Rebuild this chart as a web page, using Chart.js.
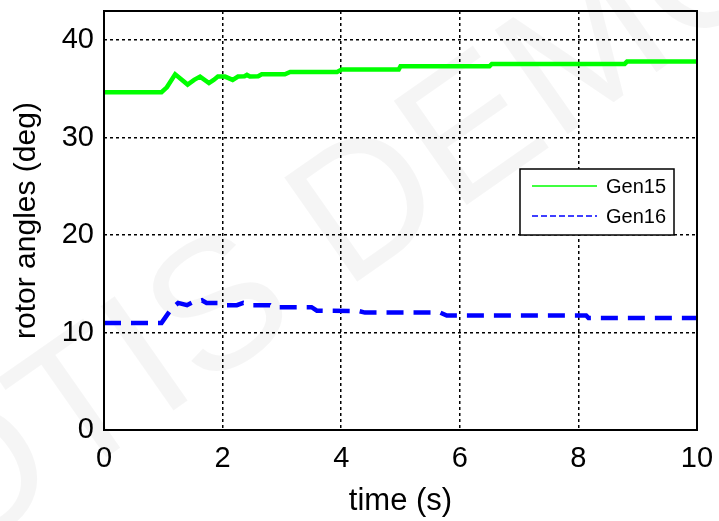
<!DOCTYPE html>
<html>
<head>
<meta charset="utf-8">
<title>rotor angles</title>
<script src="https://cdn.jsdelivr.net/npm/chart.js@4.4.1/dist/chart.umd.min.js"></script>
<style>
    html, body { margin: 0; padding: 0; background: #fff; }
    #wrap { width: 719px; height: 521px; }
</style>
</head>
<body>
<div id="wrap"><canvas id="rotorChart" width="719" height="521"></canvas></div>
<script>
// Gen15 rotor angle (deg) against time (s)
const timeGen15 = [0, 0.97, 1.06, 1.2, 1.41, 1.52, 1.62, 1.77, 1.85, 1.92, 2.04, 2.17, 2.26, 2.37, 2.41, 2.46, 2.6, 2.66, 3.05, 3.14, 3.93, 4.01, 4.97, 5.0, 6.5, 6.54, 8.78, 8.82, 10];
const angleGen15 = [34.66, 34.66, 35.17, 36.5, 35.45, 35.93, 36.27, 35.6, 35.93, 36.27, 36.27, 35.93, 36.27, 36.3, 36.44, 36.27, 36.3, 36.5, 36.5, 36.75, 36.75, 36.99, 36.99, 37.33, 37.33, 37.57, 37.57, 37.81, 37.81];

// Gen16 rotor angle (deg) against time (s)
const timeGen16 = [0, 0.97, 1.14, 1.25, 1.4, 1.51, 1.65, 1.73, 1.93, 2.01, 2.24, 2.35, 2.51, 2.8, 2.85, 3.5, 3.59, 4.3, 4.4, 5.67, 5.78, 8.13, 8.17, 10];
const angleGen16 = [10.99, 10.99, 12.47, 13.04, 12.81, 13.15, 13.32, 13.04, 13.04, 12.81, 12.81, 13.04, 12.81, 12.81, 12.6, 12.6, 12.25, 12.2, 12.05, 12.05, 11.75, 11.75, 11.5, 11.5];

const seriesLabels = ['Gen15', 'Gen16'];
const xTicks = [0, 2, 4, 6, 8, 10];
const yTicks = [0, 10, 20, 30, 40];

const FONT = "'Liberation Sans', Arial, sans-serif";

function toPoints(times, values) {
    return times.map((t, i) => ({ x: t, y: values[i] }));
}

// no automatic room for overflowing tick labels, the padding below sets the box
function fixedBox(size, key) {
    return axis => {
        axis[key] = size;
        axis.paddingTop = 0;
        axis.paddingBottom = 0;
        axis.paddingLeft = 0;
        axis.paddingRight = 0;
    };
}

// faint diagonal watermark behind the plot
const watermarkPlugin = {
    id: 'watermark',
    beforeDraw(chart) {
        const ctx = chart.ctx;
        ctx.save();
        ctx.fillStyle = '#ffffff';
        ctx.fillRect(0, 0, chart.width, chart.height);
        ctx.translate(345, 228);
        ctx.rotate(-35 * Math.PI / 180);
        ctx.font = '185px ' + FONT;
        ctx.textAlign = 'center';
        ctx.textBaseline = 'middle';
        ctx.fillStyle = 'rgba(0, 0, 0, 0.04)';
        ctx.fillText('OTIS DEMO', 0, 0);
        ctx.restore();
    }
};

// full axes box plus the boxed legend inside the plot
const boxLegendPlugin = {
    id: 'boxLegend',
    afterDraw(chart) {
        const ctx = chart.ctx;
        const area = chart.chartArea;
        ctx.save();
        ctx.strokeStyle = '#000';
        ctx.lineWidth = 2;
        ctx.strokeRect(area.left, area.top, area.right - area.left, area.bottom - area.top);

        const lx = 520, ly = 169, lw = 154, lh = 66;
        ctx.fillStyle = '#fff';
        ctx.fillRect(lx, ly, lw, lh);
        ctx.lineWidth = 1.5;
        ctx.strokeRect(lx, ly, lw, lh);

        ctx.font = '20px ' + FONT;
        ctx.textBaseline = 'middle';
        chart.data.datasets.forEach((ds, i) => {
            const y = ly + 17 + i * 30;
            ctx.beginPath();
            ctx.strokeStyle = ds.borderColor;
            ctx.lineWidth = 1.5;
            ctx.setLineDash(i === 1 ? [6, 3] : []);
            ctx.moveTo(lx + 12, y);
            ctx.lineTo(lx + 77, y);
            ctx.stroke();
            ctx.setLineDash([]);
            ctx.fillStyle = '#000';
            ctx.fillText(ds.label, lx + 86, y + 1);
        });
        ctx.restore();
    }
};

const ctx = document.getElementById('rotorChart').getContext('2d');
new Chart(ctx, {
    type: 'line',
    data: {
        datasets: [{
            label: seriesLabels[0],
            data: toPoints(timeGen15, angleGen15),
            borderColor: '#00ff00',
            borderWidth: 4.5,
            pointRadius: 0,
            tension: 0
        }, {
            label: seriesLabels[1],
            data: toPoints(timeGen16, angleGen16),
            borderColor: '#0000ff',
            borderWidth: 4.5,
            borderDash: [17, 10],
            pointRadius: 0,
            tension: 0
        }]
    },
    options: {
        responsive: false,
        devicePixelRatio: 1,
        animation: false,
        layout: { padding: { top: 11, right: 22, left: 0, bottom: 0 } },
        plugins: {
            legend: { display: false },
            tooltip: { enabled: false }
        },
        scales: {
            x: {
                type: 'linear',
                min: 0,
                max: 10,
                afterBuildTicks: axis => { axis.ticks = xTicks.map(v => ({ value: v })); },
                afterFit: fixedBox(91, 'height'),
                ticks: {
                    color: '#000',
                    font: { family: FONT, size: 29 },
                    padding: 12,
                    maxRotation: 0
                },
                grid: { color: '#000', lineWidth: 1.5, drawTicks: false },
                border: { display: false, dash: [3, 3] },
                title: {
                    display: true,
                    text: 'time (s)',
                    color: '#000',
                    font: { family: FONT, size: 31 },
                    padding: { top: 0, bottom: 1 }
                }
            },
            y: {
                min: 0,
                max: 43,
                afterBuildTicks: axis => { axis.ticks = yTicks.map(v => ({ value: v })); },
                afterFit: fixedBox(104, 'width'),
                ticks: {
                    color: '#000',
                    font: { family: FONT, size: 29 },
                    padding: 10
                },
                grid: { color: '#000', lineWidth: 1.5, drawTicks: false },
                border: { display: false, dash: [3, 3] },
                title: {
                    display: true,
                    text: 'rotor angles (deg)',
                    color: '#000',
                    font: { family: FONT, size: 30 },
                    padding: { top: 9, bottom: 0 }
                }
            }
        }
    },
    plugins: [watermarkPlugin, boxLegendPlugin]
});
</script>
</body>
</html>
